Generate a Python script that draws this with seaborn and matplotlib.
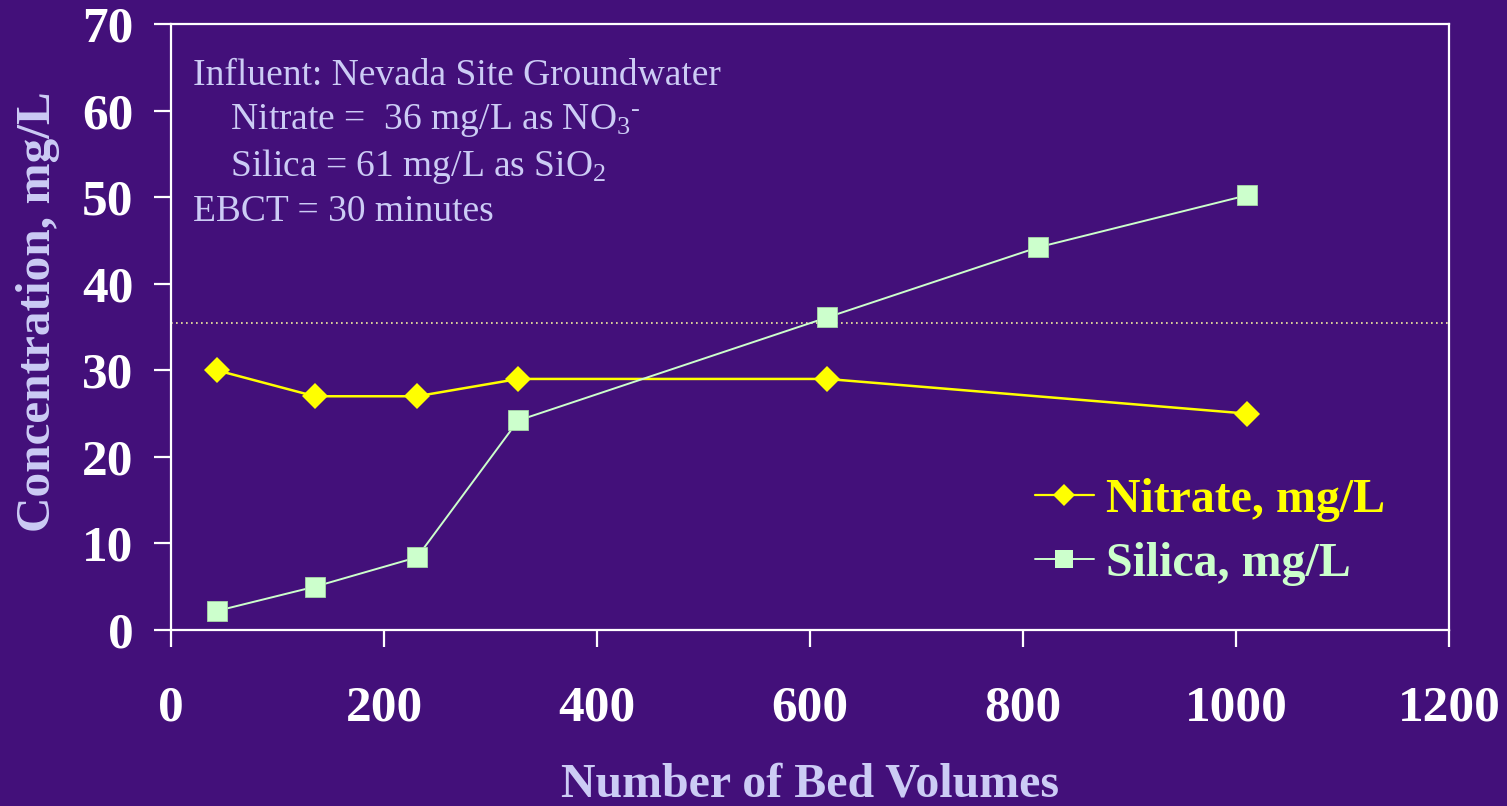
import matplotlib
matplotlib.use("Agg")
import matplotlib.pyplot as plt
import seaborn as sns
import pandas as pd
from matplotlib.lines import Line2D

# ---- data ----
nitrate_bv = [43, 135, 231, 326, 616, 1010]
nitrate_mgL = [30, 27, 27, 29, 29, 25]
silica_bv = [43, 135, 231, 326, 616, 814, 1010]
silica_mgL = [2.2, 5.0, 8.4, 24.2, 36.1, 44.2, 50.2]
ref_level = 35.5
series_labels = ["Nitrate, mg/L", "Silica, mg/L"]
x_ticks = [0, 200, 400, 600, 800, 1000, 1200]
y_ticks = [0, 10, 20, 30, 40, 50, 60, 70]
note_lines = [
    "Influent: Nevada Site Groundwater",
    "    Nitrate =  36 mg/L as NO$_3$$^{\\mathregular{\u2010}}$",
    "    Silica = 61 mg/L as SiO$_2$",
    "EBCT = 30 minutes",
]

BG = "#43107a"
YEL = "#ffff00"
GRN = "#ccffcc"
LAV = "#ccccf5"

sns.set_style("white")
plt.rcParams["font.family"] = ["Liberation Serif", "DejaVu Serif"]
plt.rcParams["mathtext.fontset"] = "custom"
plt.rcParams["mathtext.rm"] = "Liberation Serif"
plt.rcParams["mathtext.it"] = "Liberation Serif"
plt.rcParams["mathtext.bf"] = "Liberation Serif:bold"

fig = plt.figure(figsize=(15.07, 8.06), dpi=100, facecolor=BG)
ax = fig.add_axes([171/1507, 1 - 630/806, (1449-171)/1507, (630-24)/806])
ax.set_facecolor(BG)

df_n = pd.DataFrame({"bv": nitrate_bv, "c": nitrate_mgL})
df_s = pd.DataFrame({"bv": silica_bv, "c": silica_mgL})

ax.axhline(ref_level, color="#f5f0a0", lw=1.2, ls=(0, (1, 2)), zorder=1)
sns.lineplot(data=df_n, x="bv", y="c", ax=ax, color=YEL, lw=1.8,
             marker="D", markersize=13, markeredgewidth=0, markerfacecolor=YEL, zorder=3)
sns.lineplot(data=df_s, x="bv", y="c", ax=ax, color=GRN, lw=1.4,
             marker="s", markersize=14.5, markeredgewidth=0.6, markeredgecolor="#a8d8a8",
             markerfacecolor=GRN, zorder=3)

ax.set_xlim(0, 1200)
ax.set_ylim(0, 70)
ax.set_xticks(x_ticks)
ax.set_yticks(y_ticks)
ax.set_xticklabels([str(v) for v in x_ticks])
ax.set_yticklabels([str(v) for v in y_ticks])
for sp in ax.spines.values():
    sp.set_color("white")
    sp.set_linewidth(1.6)
ax.tick_params(axis="both", direction="out", length=12, width=1.6, color="white",
               labelcolor="white", labelsize=37, bottom=True, left=True)
ax.tick_params(axis="y", pad=15)
ax.tick_params(axis="x", pad=28)
for lbl in ax.get_xticklabels() + ax.get_yticklabels():
    lbl.set_fontweight("bold")

ax.set_xlabel("Number of Bed Volumes", color=LAV, fontsize=34.5, fontweight="bold", labelpad=22)
ax.set_ylabel("Concentration, mg/L", color=LAV, fontsize=35.5, fontweight="bold")
ax.yaxis.set_label_coords(-0.087, 0.525)

y0 = 0.915
for i, t in enumerate(note_lines):
    ax.text(0.017, y0 - i * 0.075, t, transform=ax.transAxes, color=LAV,
            fontsize=27, ha="left", va="center")

handles = [
    Line2D([], [], color=YEL, lw=1.6, marker="D", markersize=11, markeredgewidth=0),
    Line2D([], [], color=GRN, lw=1.4, marker="s", markersize=13, markeredgewidth=0),
]
leg = ax.legend(handles, series_labels, loc="center left", bbox_to_anchor=(0.676, 0.162),
                frameon=False, prop={"size": 34.5, "weight": "bold"}, borderpad=0,
                borderaxespad=0, handlelength=1.23, handletextpad=0.25, labelspacing=0.42)
for txt, col in zip(leg.get_texts(), [YEL, GRN]):
    txt.set_color(col)

fig.savefig("out.png", dpi=100, facecolor=BG)
